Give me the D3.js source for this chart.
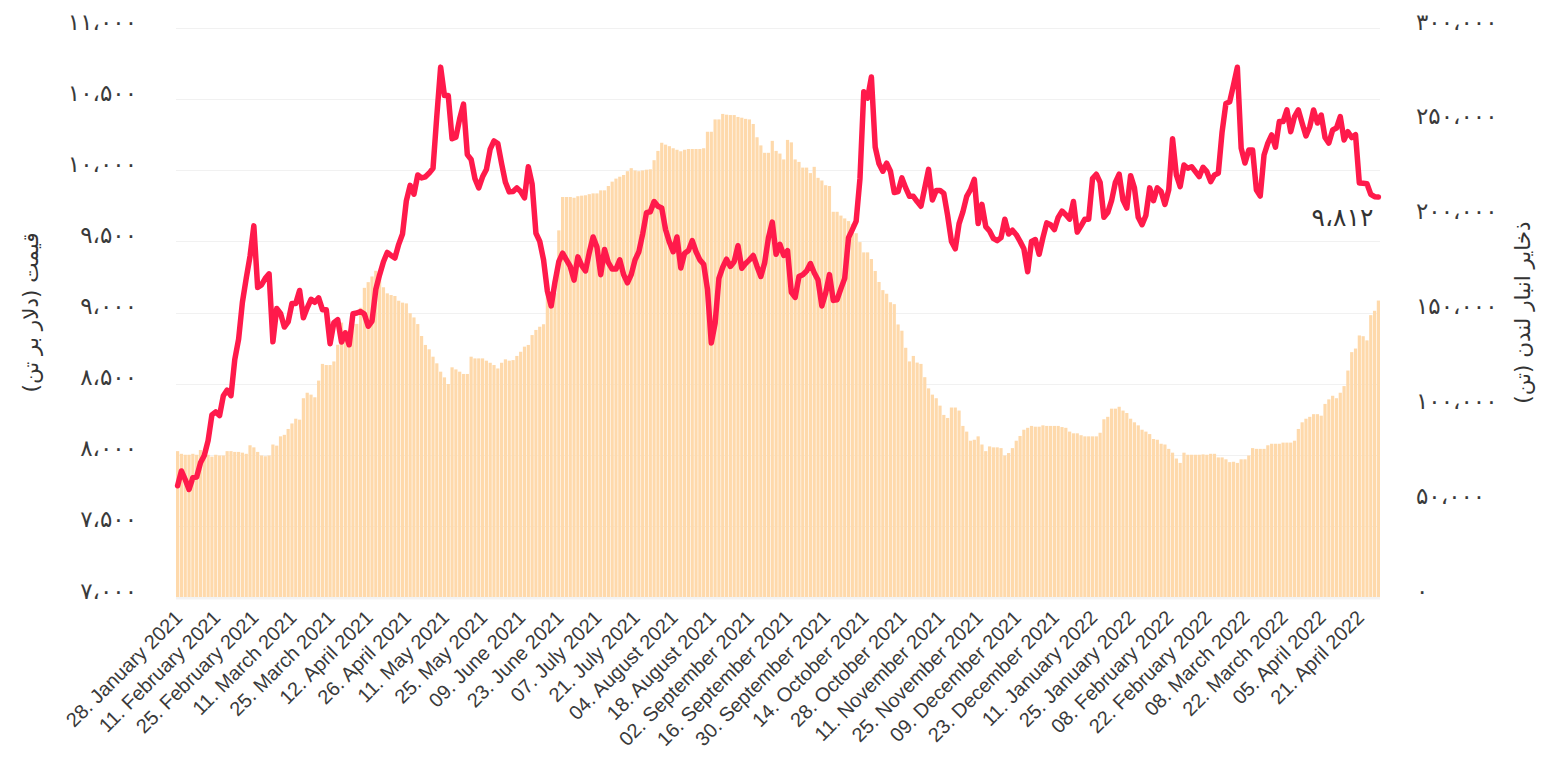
<!DOCTYPE html>
<html>
<head>
<meta charset="utf-8">
<script src="https://cdn.jsdelivr.net/npm/d3@7"></script>
<style>
  body { margin: 0; background: #ffffff; }
  svg { display: block; }
</style>
</head>
<body>
<div id="chart"></div>
<script>
// ---------------------------------------------------------------
// DATA (trading days, 28 Jan 2021 -> 28 Apr 2022)
// ---------------------------------------------------------------

// copper price, USD per tonne (left axis)
const priceValues = [
  7782, 7886, 7826, 7756, 7839, 7844, 7943, 7995, 8099, 8280, 8301, 8275, 8415, 8454, 8415, 8670,
  8812, 9072, 9240, 9396, 9609, 9176, 9194, 9240, 9272, 8794, 9028, 8994, 8898, 8934, 9064, 9064,
  9155, 8963, 9033, 9093, 9072, 9103, 9020, 9020, 8781, 8929, 8950, 8792, 8857, 8773, 8991, 8996,
  9007, 8989, 8903, 8940,
  9163, 9266, 9357, 9422, 9401, 9383, 9479, 9552, 9785, 9894, 9832, 9967, 9946, 9954, 9980, 10014,
  10382, 10725, 10525, 10525, 10221, 10232, 10362, 10465, 10110, 10076, 9941, 9876, 9954, 10006,
  10149, 10206, 10188, 10045, 9915, 9848, 9850, 9876, 9850, 9806, 10024, 9902, 9557, 9500, 9370,
  9150, 9046, 9215, 9357, 9417, 9370, 9324,
  9228, 9391, 9331, 9292, 9422, 9531, 9461, 9266, 9443, 9350, 9305, 9305, 9370, 9266, 9209, 9266,
  9370, 9427, 9552, 9702, 9708, 9780, 9747, 9734, 9583, 9495, 9427, 9531, 9313, 9417, 9435, 9505,
  9427, 9370, 9339, 9163, 8786, 8924, 9240, 9318, 9375, 9324, 9357, 9469, 9311, 9344, 9370, 9401,
  9324, 9253, 9350, 9526, 9635,
  9409, 9479, 9401, 9435, 9142, 9106, 9253, 9266, 9292, 9344, 9279, 9228, 9046, 9137, 9266, 9085,
  9090, 9168, 9240, 9526, 9583, 9643, 9941, 10551, 10507, 10655, 10162, 10045, 9993, 10050, 9993,
  9843, 9850, 9946, 9876, 9817, 9817, 9780, 9747, 9876, 10006, 9791, 9858, 9858, 9837, 9682, 9500,
  9448, 9625, 9708, 9817, 9863, 9936,
  9625, 9760, 9604, 9573, 9521, 9505, 9526, 9656, 9552, 9578, 9547, 9500, 9448, 9287, 9500, 9513,
  9409, 9526, 9630, 9617, 9583, 9669, 9713, 9687, 9656, 9780, 9565, 9609, 9656, 9656, 9941, 9972,
  9915, 9669, 9702, 9786, 9915, 9972, 9791, 9734, 9962, 9876, 9669, 9617, 9682, 9876, 9786, 9876,
  9850, 9760, 9863,
  10221, 9967, 9885, 10037, 10014, 10025, 9990, 9955, 10021, 9990, 9920, 9967, 9979, 10270, 10470,
  10482, 10600, 10724, 10156, 10051, 10142, 10142, 9861, 9819, 10107, 10191, 10248, 10163, 10342,
  10342, 10424, 10271, 10377, 10424, 10330, 10241, 10306, 10424, 10332, 10388, 10230, 10191, 10283,
  10297, 10377, 10213, 10271, 10230, 10250, 9910, 9908, 9905, 9830, 9814, 9812
];

// LME warehouse stocks, tonnes (right axis)
const stockValues = [
  76900, 75500, 75000, 75000, 75500, 75000, 77500, 76100, 75000, 74000, 75000, 74600, 74600, 76900,
  76900, 76500, 76500,
  76100, 75500, 80000, 78900, 76500, 74600, 74200, 74600, 80400, 79800, 84700, 85500, 88600, 91500,
  94000, 93500, 104800, 107700, 106700, 105300, 114100, 122900, 122300, 122300, 124200, 133000,
  144700, 140800, 140800, 144000, 144000,
  152500, 163000, 166000, 169000, 172000, 167800, 163300, 160100, 159200, 158700, 156200, 155200,
  154800, 149600, 147400, 143900, 137600, 132900, 130600, 126700, 123200, 118800, 115800, 112300,
  121100, 120000, 118800, 117600, 117600, 126700, 125800, 125800,
  125800, 124600, 123500, 122300, 120500, 123500, 125300, 124600, 124900, 127100, 129300, 132000,
  132900, 138100, 140800, 142500, 143800, 160200, 160200, 160200, 193300, 210900, 210900, 210900,
  210500, 211300, 211600, 211800, 212400, 212800, 212800,
  214400, 214400, 216700, 219000, 220600, 221600, 222500, 224500, 226100, 224900, 224500, 224900,
  225300, 225500, 230300, 235200, 239500, 238500, 237700, 236600, 235800, 235000, 235800, 236200,
  236200, 236200, 236200, 236600, 245300, 245300, 251800, 251800,
  254700, 254300, 254100, 254100, 253100, 252700, 252100, 251800, 249400, 242400, 238100, 234200,
  234200, 240500, 235200, 233800, 230700, 241000, 239700, 230700, 229400, 226400, 226400, 223500,
  226800, 221000, 219600, 217100, 216700, 203100, 203100,
  201100, 199600, 198200, 196800, 191800, 187100, 181700, 181700, 178200, 171900, 166100, 161800,
  159900, 155400, 154400, 143700, 140400, 131400, 124200, 127100, 123600, 122900, 115900, 110000,
  106700, 104800, 100900, 96000, 94400, 99900, 99900,
  98300, 90200, 87200, 82400, 82900, 84700, 80400, 76900, 79400, 78900, 78900, 78500, 74600, 75900,
  78500, 82400, 84900, 88200, 89200, 90200, 89800, 89800, 90500, 90200, 90200, 90200, 90200, 89600,
  89200, 87200, 86300, 86300,
  85300, 84700, 84700, 84700, 84700, 86600, 93700, 95000, 99300, 99300, 100300, 98300, 97000, 94000,
  92100, 90500, 88200, 87200, 85900, 83300, 82900, 80800, 80400, 78100, 76100, 73000, 70700, 76100,
  75000, 75000, 75000,
  75000, 75200, 75000, 75500, 75500, 73600, 73600, 72600, 71100, 71300, 70700, 72600, 72600, 74600,
  78500, 78100, 78100, 78100, 80000, 80800, 80800, 80800, 81400, 81400, 81400, 82400, 88600, 92100,
  94000, 95000, 96400, 96400,
  95600, 101800, 104200, 106100, 104800, 107700, 111200, 119400, 129100, 131000, 137900, 137500,
  135300, 148600, 150900, 156300
];

// one label every 10 trading days
const tickStep = 10;
const xTickLabels = [
  "28. January 2021", "11. February 2021", "25. February 2021", "11. March 2021",
  "25. March 2021", "12. April 2021", "26. April 2021", "11. May 2021", "25. May 2021",
  "09. June 2021", "23. June 2021", "07. July 2021", "21. July 2021", "04. August 2021",
  "18. August 2021", "02. September 2021", "16. September 2021", "30. September 2021",
  "14. October 2021", "28. October 2021", "11. November 2021", "25. November 2021",
  "09. December 2021", "23. December 2021", "11. January 2022", "25. January 2022",
  "08. February 2022", "22. February 2022", "08. March 2022", "22. March 2022",
  "05. April 2022", "21. April 2022"
];

const priceTicks = [7000, 7500, 8000, 8500, 9000, 9500, 10000, 10500, 11000];
const stockTicks = [0, 50000, 100000, 150000, 200000, 250000, 300000];

const leftTitle = "قیمت (دلار بر تن)";
const rightTitle = "ذخایر انبار لندن (تن)";

// ---------------------------------------------------------------
// LAYOUT
// ---------------------------------------------------------------
const width = 1557;
const height = 761;
const plot = { left: 176, right: 1380, top: 28, bottom: 597 };

const barColor = "#fed9ab";
const lineColor = "#ff1a4b";
const textColor = "#333333";
const faFont = "'DejaVu Sans', sans-serif";

const svg = d3.select("#chart")
  .append("svg")
  .attr("width", width)
  .attr("height", height)
  .style("background", "#ffffff");

// persian digits + arabic comma as thousands separator
const faDigits = "۰۱۲۳۴۵۶۷۸۹";
const group = d3.format(",");
const toFa = v => group(v).replace(/\d/g, d => faDigits[d]).replace(/,/g, "،");

// ---------------------------------------------------------------
// SCALES
// ---------------------------------------------------------------
const x = d3.scaleBand()
  .domain(d3.range(priceValues.length))
  .range([plot.left, plot.right])
  .paddingInner(0.16)
  .paddingOuter(0);

const yPrice = d3.scaleLinear().domain([7000, 11000]).range([plot.bottom, plot.top]);
const yStock = d3.scaleLinear().domain([0, 300000]).range([plot.bottom, plot.top]);

// ---------------------------------------------------------------
// GRID
// ---------------------------------------------------------------
svg.append("g")
  .selectAll("line")
  .data(priceTicks)
  .join("line")
  .attr("x1", plot.left)
  .attr("x2", plot.right)
  .attr("y1", d => Math.round(yPrice(d)) + 0.5)
  .attr("y2", d => Math.round(yPrice(d)) + 0.5)
  .attr("stroke", "#f1f1f1")
  .attr("stroke-width", 1);

// ---------------------------------------------------------------
// BARS (stocks)
// ---------------------------------------------------------------
svg.append("g")
  .selectAll("rect")
  .data(stockValues)
  .join("rect")
  .attr("x", (d, i) => x(i))
  .attr("width", x.bandwidth())
  .attr("y", d => yStock(d))
  .attr("height", d => plot.bottom - yStock(d))
  .attr("fill", barColor);

// x axis base line
svg.append("line")
  .attr("x1", plot.left).attr("x2", plot.right)
  .attr("y1", plot.bottom + 1.5).attr("y2", plot.bottom + 1.5)
  .attr("stroke", "#f3f3f3")
  .attr("stroke-width", 2);

// ---------------------------------------------------------------
// LINE (price)
// ---------------------------------------------------------------
const line = d3.line()
  .x((d, i) => x(i) + x.bandwidth() / 2)
  .y(d => yPrice(d));

svg.append("path")
  .datum(priceValues)
  .attr("d", line)
  .attr("fill", "none")
  .attr("stroke", lineColor)
  .attr("stroke-width", 5.5)
  .attr("stroke-linejoin", "round")
  .attr("stroke-linecap", "round");

// last value label
const lastIdx = priceValues.length - 1;
svg.append("text")
  .attr("x", x(lastIdx) + x.bandwidth() / 2 - 5)
  .attr("y", yPrice(priceValues[lastIdx]) + 29)
  .attr("text-anchor", "end")
  .style("font-family", faFont)
  .style("font-size", "25px")
  .style("fill", textColor)
  .text(toFa(priceValues[lastIdx]));

// ---------------------------------------------------------------
// AXES
// ---------------------------------------------------------------
const leftAxis = svg.append("g")
  .attr("transform", `translate(137,0)`)
  .call(d3.axisLeft(yPrice).tickValues(priceTicks).tickFormat(toFa).tickSize(0).tickPadding(0));

const rightAxis = svg.append("g")
  .attr("transform", `translate(1416,0)`)
  .call(d3.axisRight(yStock).tickValues(stockTicks).tickFormat(toFa).tickSize(0).tickPadding(0));

[leftAxis, rightAxis].forEach(g => {
  g.select(".domain").remove();
  g.selectAll("text")
    .attr("dy", 1)
    .style("font-family", faFont)
    .style("font-size", "23px")
    .style("fill", "#3a3a3a");
});

const bottomAxis = svg.append("g")
  .attr("transform", `translate(0,${plot.bottom})`)
  .call(d3.axisBottom(x)
    .tickValues(d3.range(0, priceValues.length, tickStep))
    .tickFormat(i => xTickLabels[i / tickStep])
    .tickSize(0));

bottomAxis.select(".domain").remove();
bottomAxis.selectAll("text")
  .attr("text-anchor", "end")
  .attr("x", 0)
  .attr("y", 0)
  .attr("dy", 0)
  .attr("transform", "translate(6,22) rotate(-45)")
  .style("font-family", "'Liberation Sans', Arial, sans-serif")
  .style("font-size", "20px")
  .style("fill", "#3a3a3a");

// axis titles (both read bottom-to-top)
svg.append("text")
  .attr("transform", `translate(30,${(plot.top + plot.bottom) / 2}) rotate(-90)`)
  .attr("text-anchor", "middle")
  .attr("dy", "0.35em")
  .style("font-family", faFont)
  .style("font-size", "21.5px")
  .style("fill", textColor)
  .text(leftTitle);

svg.append("text")
  .attr("transform", `translate(1522,${(plot.top + plot.bottom) / 2}) rotate(-90)`)
  .attr("text-anchor", "middle")
  .attr("dy", "0.35em")
  .style("font-family", faFont)
  .style("font-size", "21.5px")
  .style("fill", textColor)
  .text(rightTitle);
</script>
</body>
</html>
